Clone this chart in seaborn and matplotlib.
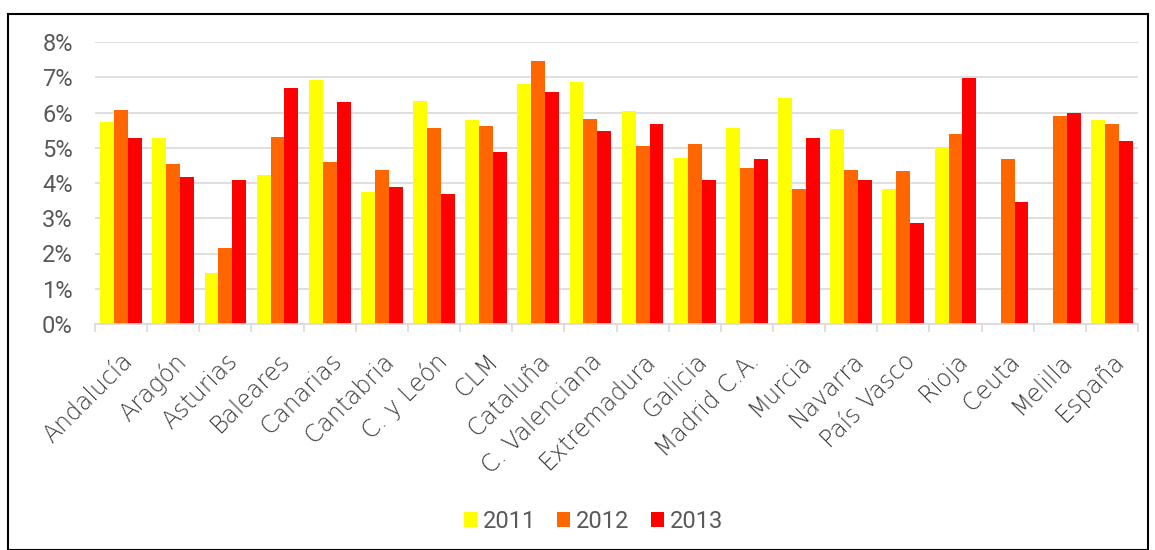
import pandas as pd
import numpy as np
import matplotlib.pyplot as plt
import seaborn as sns
from matplotlib.ticker import PercentFormatter, FixedLocator

# Data (percent)
regions = ["Andalucía", "Aragón", "Asturias", "Baleares", "Canarias", "Cantabria",
           "C. y León", "CLM", "Cataluña", "C. Valenciana", "Extremadura", "Galicia",
           "Madrid C.A.", "Murcia", "Navarra", "País Vasco", "Rioja", "Ceuta",
           "Melilla", "España"]
v2011 = [5.74, 5.28, 1.46, 4.24, 6.92, 3.74, 6.33, 5.79, 6.81, 6.86, 6.04, 4.71,
         5.57, 6.41, 5.53, 3.82, 4.99, np.nan, np.nan, 5.79]
v2012 = [6.07, 4.55, 2.15, 5.30, 4.59, 4.36, 5.57, 5.61, 7.47, 5.81, 5.04, 5.11,
         4.43, 3.83, 4.38, 4.33, 5.38, 4.69, 5.90, 5.67]
v2013 = [5.28, 4.18, 4.08, 6.69, 6.29, 3.88, 3.68, 4.88, 6.58, 5.48, 5.67, 4.08,
         4.68, 5.28, 4.08, 2.87, 6.99, 3.47, 5.99, 5.18]
years = ["2011", "2012", "2013"]
colors = ["#FFFF00", "#FF6600", "#FF0000"]

df = pd.DataFrame({"region": regions * 3,
                   "year": sum([[y] * len(regions) for y in years], []),
                   "value": v2011 + v2012 + v2013})

sns.set_style("white")
plt.rcParams["font.family"] = ["Roboto", "DejaVu Sans"]

fig = plt.figure(figsize=(11.55, 5.5), dpi=100)
ax = fig.add_axes([95 / 1155, 1 - 324 / 550, (1138 - 95) / 1155, (324 - 42) / 550])

sns.barplot(data=df, x="region", y="value", hue="year", order=regions,
            hue_order=years, palette=colors, width=0.8, linewidth=0,
            saturation=1, ax=ax)

ax.set_ylim(0, 8)
ax.set_xlim(-0.5, len(regions) - 0.5)
ax.set_yticks(range(0, 9))
ax.yaxis.set_major_formatter(PercentFormatter(decimals=0))
ax.grid(axis="y", color="#d9d9d9", linewidth=1.2)
ax.set_axisbelow(True)
for s in ["top", "right", "left"]:
    ax.spines[s].set_visible(False)
ax.spines["bottom"].set_color("#d9d9d9")
ax.spines["bottom"].set_linewidth(1.2)

ax.set_xlabel("")
ax.set_ylabel("")
ax.tick_params(axis="y", length=0, labelsize=17, labelcolor="#595959", pad=16)
ax.tick_params(axis="x", which="major", length=0, pad=18)
ax.xaxis.set_minor_locator(FixedLocator(np.arange(-0.5, len(regions), 1)))
ax.tick_params(axis="x", which="minor", length=6, width=1.2, color="#d9d9d9", bottom=True)
for lab in ax.get_xticklabels():
    lab.set_family(["DejaVu Sans"])
    lab.set_fontsize(17)
    lab.set_fontweight("light")
    lab.set_color("#3a3a3a")
    lab.set_rotation(45)
    lab.set_ha("right")
    lab.set_rotation_mode("anchor")

ax.legend(loc="center", bbox_to_anchor=(0.478, -0.70), ncol=3, frameon=False,
          fontsize=17, labelcolor="#595959", handlelength=0.55, handleheight=0.55,
          handletextpad=0.25, columnspacing=0.9)

# outer frame around the chart area
fig.add_artist(plt.Rectangle((8 / 1155, 0), 1140 / 1155, 1 - 14 / 550,
                             transform=fig.transFigure, fill=False,
                             edgecolor="black", linewidth=1.5))

fig.savefig("out.png", dpi=100)
